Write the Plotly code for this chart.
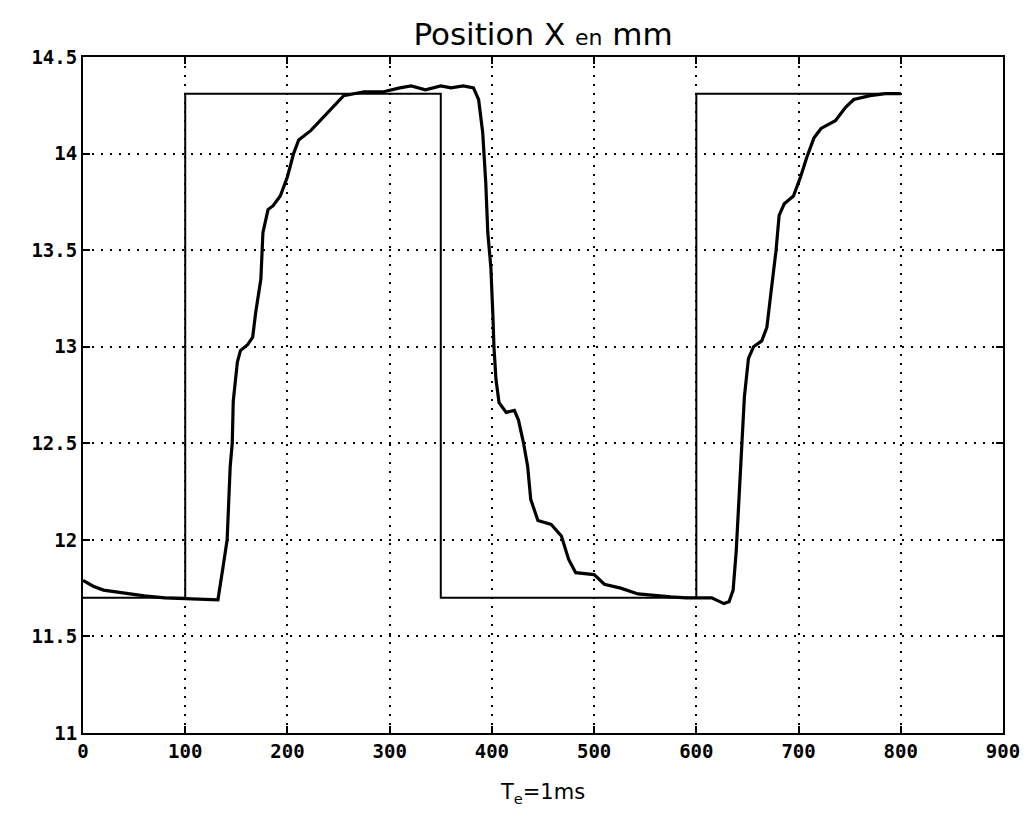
import plotly.graph_objects as go

# Reference (setpoint) signal
ref_x = [0, 100, 100, 350, 350, 600, 600, 800]
ref_y = [11.70, 11.70, 14.31, 14.31, 11.70, 11.70, 14.31, 14.31]

# Measured position
pos_x = [0, 10, 20, 40, 60, 80, 100, 120, 132, 137, 141, 144, 146, 147, 151, 154,
         161, 166, 169, 174, 176, 181, 186, 193, 200, 206, 211, 223, 232, 242, 255,
         275, 294, 310, 321, 335, 350, 360, 372, 382, 387, 391, 394, 396, 399, 401,
         402, 404, 407, 414, 422, 426, 431, 435, 438, 445, 458, 468, 475, 482, 500,
         510, 526, 543, 560, 575, 590, 602, 615, 627, 632, 636, 639, 641, 644, 647,
         651, 656, 664, 669, 673, 678, 681, 686, 695, 702, 708, 715, 722, 736, 746,
         754, 770, 785, 800]
pos_y = [11.79, 11.76, 11.74, 11.725, 11.71, 11.70, 11.695, 11.69, 11.69, 11.86, 12.0,
         12.38, 12.50, 12.72, 12.92, 12.98, 13.01, 13.05, 13.18, 13.35, 13.59, 13.71,
         13.73, 13.78, 13.88, 14.0, 14.07, 14.12, 14.17, 14.23, 14.30, 14.32, 14.32,
         14.34, 14.35, 14.33, 14.35, 14.34, 14.35, 14.34, 14.28, 14.11, 13.85, 13.59,
         13.41, 13.16, 13.0, 12.83, 12.71, 12.66, 12.67, 12.62, 12.50, 12.38, 12.21,
         12.10, 12.08, 12.02, 11.90, 11.83, 11.82, 11.77, 11.75, 11.72, 11.71, 11.705,
         11.70, 11.70, 11.70, 11.67, 11.68, 11.74, 11.94, 12.14, 12.44, 12.74, 12.94,
         13.0, 13.03, 13.1, 13.28, 13.5, 13.68, 13.74, 13.78, 13.88, 13.98, 14.08,
         14.13, 14.17, 14.24, 14.28, 14.30, 14.31, 14.31]

x_ticks = [0, 100, 200, 300, 400, 500, 600, 700, 800, 900]
y_ticks = [11, 11.5, 12, 12.5, 13, 13.5, 14, 14.5]
y_tick_labels = ["11", "11.5", "12", "12.5", "13", "13.5", "14", "14.5"]

fig = go.Figure()
fig.add_trace(go.Scatter(x=ref_x, y=ref_y, mode="lines",
                         line=dict(color="black", width=2), showlegend=False))
fig.add_trace(go.Scatter(x=pos_x, y=pos_y, mode="lines",
                         line=dict(color="black", width=3.2), showlegend=False))

tickfont = dict(family="DejaVu Sans Mono", size=19, color="black", weight="bold")
axis_common = dict(
    showline=True, linecolor="black", linewidth=2, mirror="ticks",
    ticks="inside", ticklen=7, tickcolor="black", tickwidth=2,
    showgrid=True, gridcolor="black", gridwidth=2, griddash="2px,7px",
    zeroline=False, tickfont=tickfont,
)

fig.update_layout(
    width=1029, height=818,
    margin=dict(l=75, r=34, t=49, b=93),
    paper_bgcolor="white", plot_bgcolor="white",
    title=dict(text="Position X <span style='font-size:22px'>en</span> mm",
               x=0.52, xanchor="center", y=0.968, yanchor="middle",
               font=dict(family="DejaVu Sans", size=31, color="black")),
    xaxis=dict(range=[0, 900], tickvals=x_ticks, ticktext=[str(v) for v in x_ticks],
               title=dict(text="T<sub>e</sub>=1ms", standoff=24,
                          font=dict(family="DejaVu Sans", size=21, color="black")),
               **axis_common),
    yaxis=dict(range=[11, 14.5], tickvals=y_ticks, ticktext=y_tick_labels,
               **axis_common),
)

fig.write_html("out.html")
